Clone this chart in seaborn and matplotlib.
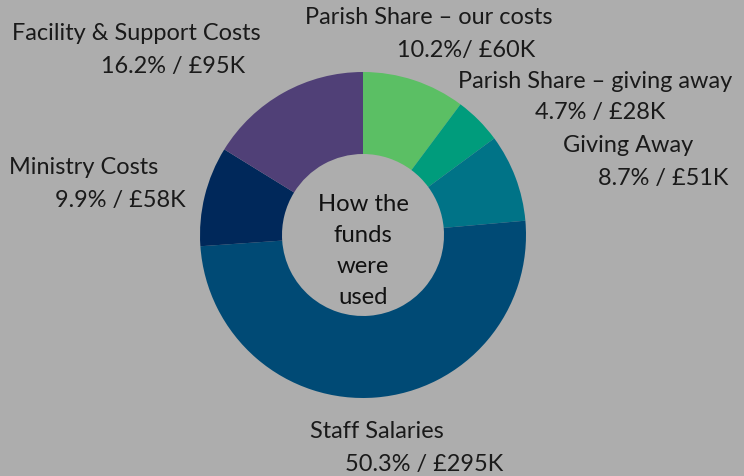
import numpy as np
import pandas as pd
import matplotlib.pyplot as plt
import seaborn as sns

categories = ["Parish Share \u2013 our costs", "Parish Share \u2013 giving away", "Giving Away",
              "Staff Salaries", "Ministry Costs", "Facility & Support Costs"]
percents = [10.2, 4.7, 8.7, 50.3, 9.9, 16.2]
amounts = ["£60K", "£28K", "£51K", "£295K", "£58K", "£95K"]
colors = ["#5bbf64", "#009c7c", "#007387", "#004a75", "#00285a", "#504077"]

df = pd.DataFrame({"category": categories, "percent": percents, "amount": amounts})

sns.set_theme(style="white")
plt.rcParams["font.family"] = ["Lato", "DejaVu Sans"]

bg = "#adadad"
fig = plt.figure(figsize=(7.44, 4.77), dpi=100, facecolor=bg)
ax = fig.add_axes([0, 0, 1, 1])
ax.set_facecolor(bg)

H = 477
ax.pie(df["percent"], colors=colors, startangle=90, counterclock=False,
       center=(363, H - 236), radius=163,
       wedgeprops=dict(width=82, linewidth=0))
# pie resets the limits, so set the pixel frame afterwards
ax.set_xlim(0, 744)
ax.set_ylim(0, 477)
ax.set_aspect("equal")
ax.axis("off")

# label layout (pixel coords from top-left): name pos, value pos
label_pos = [((305, 18), (397, 50)),
             ((458, 82), (535, 112)),
             ((563, 146), (598, 178)),
             ((310, 432), (345, 465)),
             ((9, 168), (55, 201)),
             ((12, 34), (101, 67))]
sep = ["/ ", " / ", " / ", " / ", " / ", " / "]

tc = "#1a1a1a"
fs = 16.9
for i, row in df.iterrows():
    (nx, ny), (vx, vy) = label_pos[i]
    ax.text(nx, H - ny, row["category"], fontsize=fs, color=tc, ha="left", va="center")
    ax.text(vx, H - vy, f"{row['percent']:.1f}%" + sep[i] + row["amount"],
            fontsize=fs, color=tc, ha="left", va="center")

ax.text(363, H - 251, "How the\nfunds\nwere\nused", fontsize=17.2, color="#111111",
        ha="center", va="center", linespacing=1.6)

fig.savefig("out.png", dpi=100, facecolor=bg)
